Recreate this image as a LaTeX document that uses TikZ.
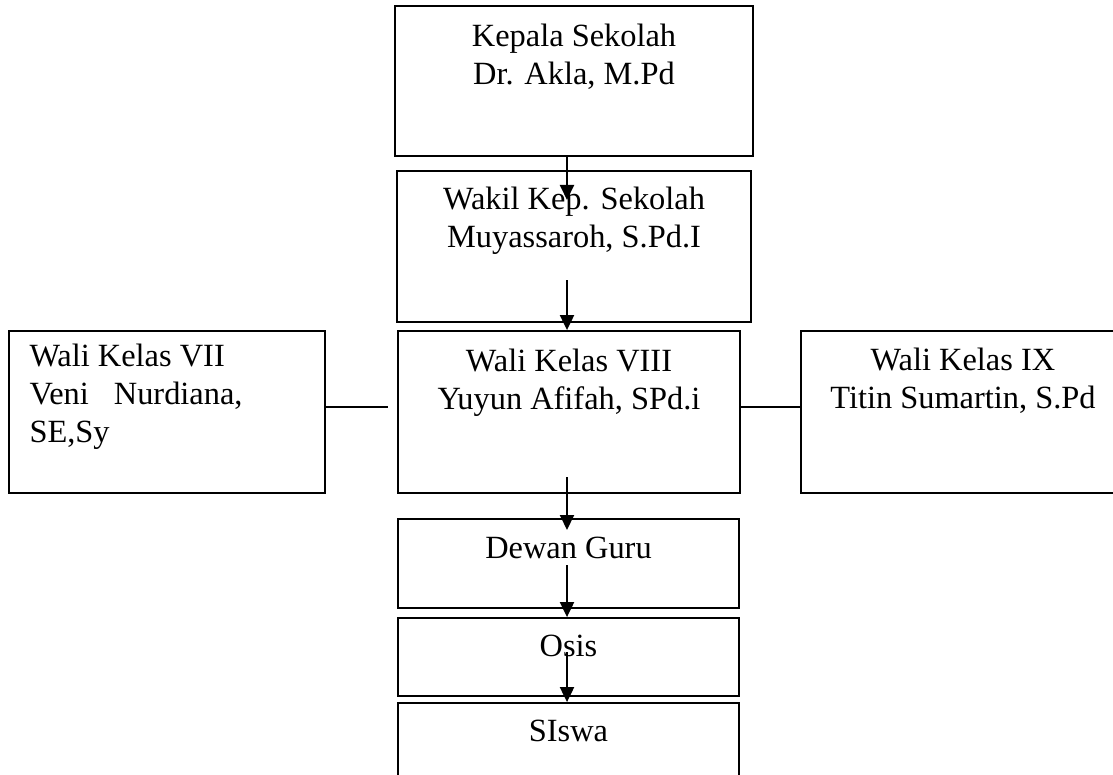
\documentclass[tikz,border=0pt]{standalone}
\usepackage{fontspec}
\setmainfont{Liberation Serif}
\usepackage{tikz}
\usetikzlibrary{arrows.meta,positioning}

\tikzset{
  box/.style={draw,line width=0.9pt,inner sep=0pt},
  txt/.style={inner sep=0pt,align=center,font=\fontsize{16.2pt}{18.8pt}\selectfont},
  arr/.style={line width=1pt,-{Triangle[length=7.5pt,width=7pt]}},
  link/.style={line width=0.9pt}
}

\begin{document}
\begin{tikzpicture}[x=0.5pt,y=-0.5pt]
          \useasboundingbox (0,0) rectangle (1113,775);
          \clip (0,0) rectangle (1113,775);
          % boxes
          \node[box,minimum width=179pt,minimum height=75pt]   (kepala) at (574,81) {};
          \node[box,minimum width=177pt,minimum height=75.5pt] (wakil)  at (574,246.5) {};
          \node[box,minimum width=171pt,minimum height=81pt]   (viii)   at (569,412) {};
          \node[box,minimum width=158pt,minimum height=81pt]   (vii)    at (167,412) {};
          \node[box,minimum width=162pt,minimum height=81pt]   (ix)     at (963,412) {};
          \node[box,minimum width=170.5pt,minimum height=44.5pt] (dewan) at (568.5,563.5) {};
          \node[box,minimum width=170.5pt,minimum height=39pt]   (osis)  at (568.5,657) {};
          \node[box,minimum width=170.5pt,minimum height=45pt]   (siswa) at (568.5,748) {};
          % texts
          \node[txt,anchor=north,below=9.5pt of kepala.north] (kepalatxt) {Kepala Sekolah\\Dr. Akla, M.Pd};
          \node[txt,anchor=north,below=8.5pt of wakil.north]  (wakiltxt)  {Wakil Kep. Sekolah\\Muyassaroh, S.Pd.I};
          \node[txt,anchor=north,below=9.5pt of viii.north] (viiitxt)   {Wali Kelas VIII\\Yuyun Afifah, SPd.i};
          \node[txt,align=left,below right=7pt and 10.5pt of vii.north west] (viitxt) {Wali Kelas VII\\Veni\hspace{12.5pt}Nurdiana,\\SE,Sy};
          \node[txt,anchor=north,below=9pt of ix.north]     (ixtxt)     {Wali Kelas IX\\Titin Sumartin, S.Pd};
          \node[txt,anchor=north,below=9.5pt of dewan.north] (dewantxt) {Dewan Guru};
          \node[txt,anchor=north,below=9pt of osis.north]   (osistxt)   {Osis};
          \node[txt,anchor=north,below=9pt of siswa.north]  (siswatxt)  {SIswa};
          % arrows
          \coordinate (wakiltip)  at (567,200);
          \coordinate (wakilfoot) at (567,280);
          \coordinate (viiifoot)  at (567,477);
          \coordinate (dewantip)  at (567,530);
          \coordinate (dewanfoot) at (567,565);
          \coordinate (osisfoot)  at (567,652);
          \draw[arr] (kepala.south -| wakiltip) -- (wakiltip);
          \draw[arr] (wakilfoot) -- (viii.north -| wakilfoot);
          \draw[arr] (viiifoot) -- (dewantip);
          \draw[arr] (dewanfoot) -- (osis.north -| dewanfoot);
          \draw[arr] (osisfoot) -- (siswa.north -| osisfoot);
          % side links
          \draw[link] ([yshift=2.5pt]vii.east) -- ++(31pt,0) coordinate (viiend);
          \draw[link] ([yshift=2.5pt]viii.east) -- ([yshift=2.5pt]ix.west);
\end{tikzpicture}
\end{document}
